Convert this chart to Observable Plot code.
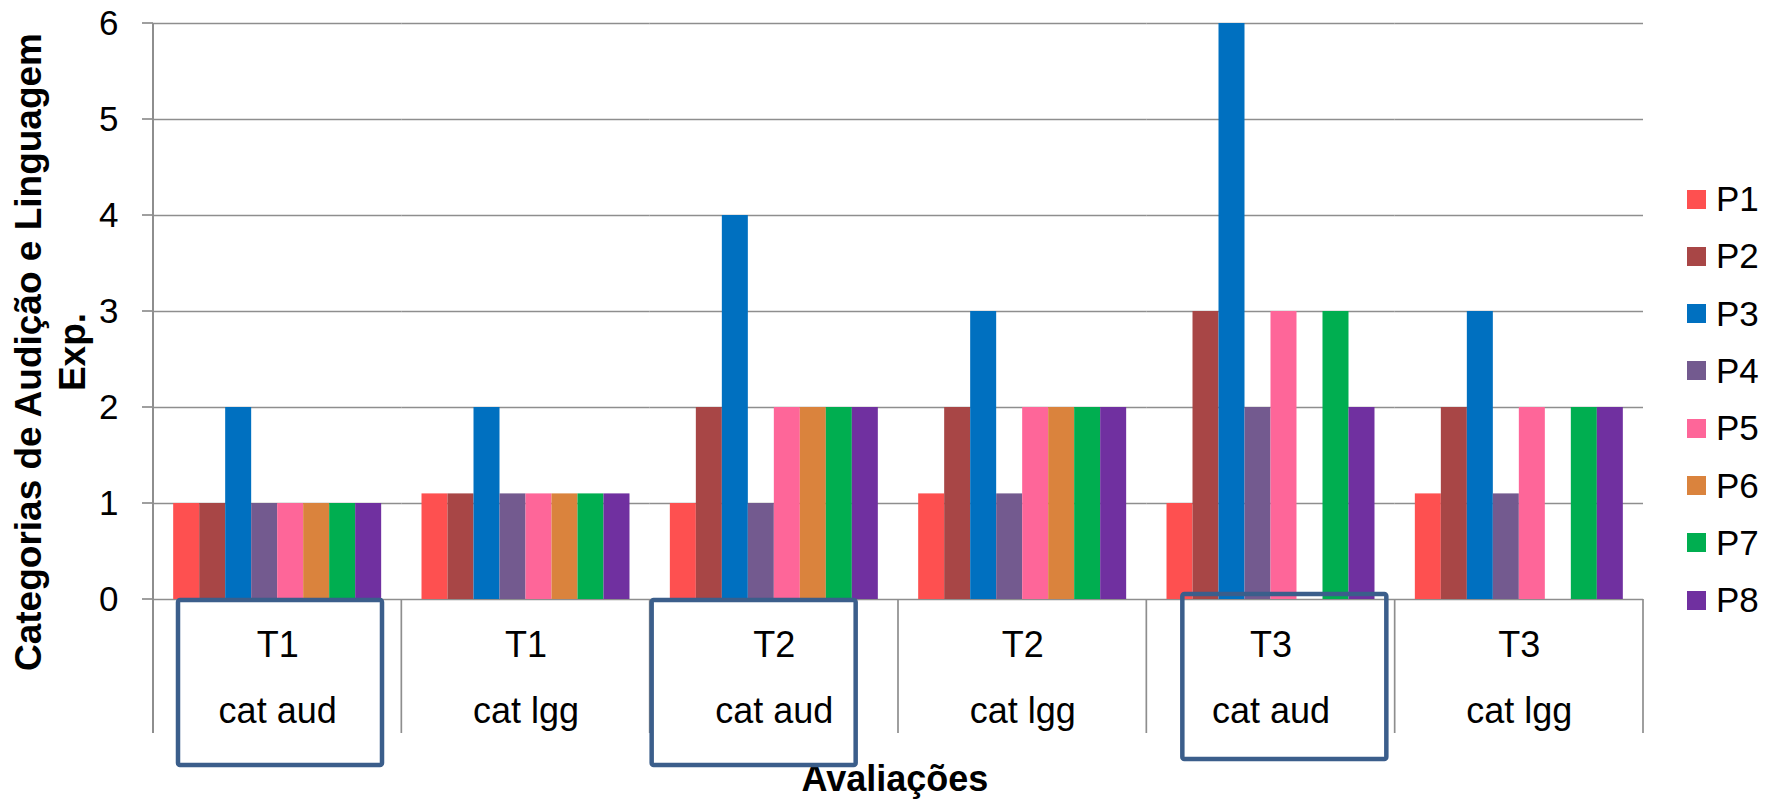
<!DOCTYPE html>
<html>
<head>
<meta charset="utf-8">
<script src="https://cdn.jsdelivr.net/npm/d3@7"></script>
<script src="https://cdn.jsdelivr.net/npm/@observablehq/plot@0.6"></script>
<style>
  html, body { margin: 0; padding: 0; background: #ffffff; }
  #wrap { position: relative; width: 1777px; height: 799px; font-family: "Liberation Sans", Arial, sans-serif; }
  #wrap svg { position: absolute; left: 0; top: 0; }
  #wrap svg [aria-label^="y-axis"] text { font-size: 35px; font-family: "Liberation Sans", Arial, sans-serif; fill: #000; }
  .lg-item { position: absolute; display: flex; align-items: center; height: 40px; font-size: 35px; color: #000; white-space: nowrap; }
  .lg-sw { width: 19px; height: 19px; margin-right: 10px; flex: none; }
</style>
</head>
<body>
<div id="wrap"></div>
<script>
// ---------- data ----------
const categories = ["T1 cat aud", "T1 cat lgg", "T2 cat aud", "T2 cat lgg", "T3 cat aud", "T3 cat lgg"];
const timeLabels = ["T1", "T1", "T2", "T2", "T3", "T3"];
const typeLabels = ["cat aud", "cat lgg", "cat aud", "cat lgg", "cat aud", "cat lgg"];
const series = ["P1", "P2", "P3", "P4", "P5", "P6", "P7", "P8"];
const colors = ["#FE5050", "#A84646", "#0070C0", "#735A8F", "#FE6699", "#DA833D", "#00AE50", "#7030A0"];
const P1 = [1, 1.1, 1, 1.1, 1, 1.1];
const P2 = [1, 1.1, 2, 2, 3, 2];
const P3 = [2, 2, 4, 3, 6, 3];
const P4 = [1, 1.1, 1, 1.1, 2, 1.1];
const P5 = [1, 1.1, 2, 2, 3, 2];
const P6 = [1, 1.1, 2, 2, null, null];
const P7 = [1, 1.1, 2, 2, 3, 2];
const P8 = [1, 1.1, 2, 2, 2, 2];
const yTicks = [0, 1, 2, 3, 4, 5, 6];
const yTitle = ["Categorias de Audição e Linguagem", "Exp."];
const xTitle = "Avaliações";
const highlighted = ["T1 cat aud", "T2 cat aud", "T3 cat aud"];
// hand-drawn annotation box nudges (pixels, relative to the category band)
const boxNudge = { "T1 cat aud": [25, 0], "T2 cat aud": [2, 0], "T3 cat aud": [36, -6] };

const valuesBySeries = [P1, P2, P3, P4, P5, P6, P7, P8];
const rows = [];
categories.forEach((c, ci) => {
  series.forEach((s, si) => {
    rows.push({ cat: c, ci, series: s, value: valuesBySeries[si][ci] });
  });
});

const GRID = "#8e8e8e";
const FONT = "Liberation Sans, Arial, sans-serif";

const chart = Plot.plot({
  width: 1777,
  height: 799,
  marginLeft: 153,
  marginRight: 134,
  marginTop: 23,
  marginBottom: 200,
  style: { fontFamily: FONT, fontSize: "35px", color: "#000", background: "#fff", overflow: "visible" },
  facet: { data: rows, x: "cat" },
  fx: { domain: categories, padding: 0, round: false, axis: null, label: null },
  x: { domain: series, paddingInner: 0, paddingOuter: 0.776, round: false, axis: null, label: null },
  y: { domain: [0, 6], nice: false, ticks: yTicks, tickSize: 0, tickPadding: 35, label: null, tickFormat: d3.format("d") },
  color: { domain: series, range: colors },
  marks: [
    Plot.ruleY(yTicks, { stroke: GRID, strokeWidth: 1.7 }),
    Plot.barY(rows, { filter: d => d.value != null, x: "series", y: "value", fill: "series", inset: 0 }),
    Plot.text(rows, { filter: d => d.series === series[0], text: d => timeLabels[d.ci], frameAnchor: "bottom", lineAnchor: "middle", dy: 46, fontSize: 36, fill: "#000" }),
    Plot.text(rows, { filter: d => d.series === series[0], text: d => typeLabels[d.ci], frameAnchor: "bottom", lineAnchor: "middle", dy: 112, fontSize: 36, fill: "#000" })
  ]
});

document.getElementById("wrap").appendChild(chart);

// ---------- overlay using the plot's own scales ----------
const fxS = chart.scale("fx");
let fx, bw;
if (fxS && typeof fxS.apply === "function") {
  fx = c => fxS.apply(c);
  bw = fxS.bandwidth;
} else {
  const dom = fxS ? fxS.domain : categories;
  const rng = fxS ? fxS.range : [153, 1643];
  const s = d3.scaleBand(dom, rng).padding(0);
  fx = c => s(c);
  bw = s.bandwidth();
}
if (!bw) bw = (fx(categories[1]) - fx(categories[0]));
const yS = chart.scale("y");
const y = (yS && typeof yS.apply === "function") ? (v => yS.apply(v)) : d3.scaleLinear(yS.domain, yS.range);

const x0 = fx(categories[0]);
const y0 = y(0);
const divLen = 134;

const svg = d3.select(chart);
const g = svg.append("g").attr("class", "overlay");

// axis line
g.append("line").attr("x1", x0).attr("x2", x0).attr("y1", y(6)).attr("y2", y0 + divLen)
  .attr("stroke", GRID).attr("stroke-width", 2);
// y ticks
yTicks.forEach(t => {
  g.append("line").attr("x1", x0 - 11).attr("x2", x0).attr("y1", y(t)).attr("y2", y(t))
    .attr("stroke", GRID).attr("stroke-width", 1.7);
});
// category dividers below the axis
categories.forEach((c) => {
  const xx = fx(c) + bw;
  g.append("line").attr("x1", xx).attr("x2", xx).attr("y1", y0).attr("y2", y0 + divLen)
    .attr("stroke", GRID).attr("stroke-width", 1.7);
});

// y title (two lines, rotated)
const yt = g.append("text")
  .attr("transform", `translate(28,352) rotate(-90)`)
  .attr("text-anchor", "middle")
  .attr("font-family", FONT).attr("font-weight", "bold").attr("font-size", 37).attr("fill", "#000");
yt.append("tspan").attr("x", 0).attr("y", 0).attr("dominant-baseline", "central").text(yTitle[0]);
yt.append("tspan").attr("x", 0).attr("y", 44).attr("dominant-baseline", "central").text(yTitle[1]);

// x title
g.append("text")
  .attr("x", 895).attr("y", 791)
  .attr("text-anchor", "middle")
  .attr("font-family", FONT).attr("font-weight", "bold").attr("font-size", 36).attr("fill", "#000")
  .text(xTitle);

// highlight boxes
highlighted.forEach(c => {
  const [dx, dy] = boxNudge[c] || [0, 0];
  g.append("rect")
    .attr("x", fx(c) + dx).attr("y", y0 + 1 + dy)
    .attr("width", 204).attr("height", 165)
    .attr("rx", 2).attr("ry", 2)
    .attr("fill", "none").attr("stroke", "#3B5E8B").attr("stroke-width", 4.5);
});

// ---------- legend ----------
const wrap = d3.select("#wrap");
series.forEach((s, i) => {
  const item = wrap.append("div").attr("class", "lg-item")
    .style("left", "1687px").style("top", (199 + i * 57.3 - 20) + "px");
  item.append("div").attr("class", "lg-sw").style("background", colors[i]);
  item.append("span").text(s);
});
</script>
</body>
</html>
